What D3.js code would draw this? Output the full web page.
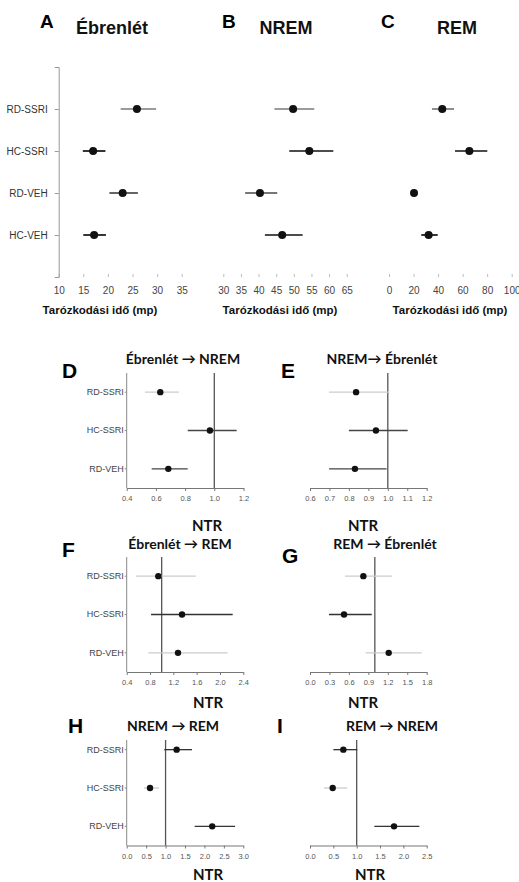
<!DOCTYPE html>
<html>
<head>
<meta charset="utf-8">
<script src="https://cdn.jsdelivr.net/npm/d3@7"></script>
<style>
  body { margin: 0; background: #fff; }
  svg { display: block; }
  .letter { font-family: "Liberation Sans", Arial, sans-serif; font-weight: bold; fill: #000; }
  .toptitle { font-family: "Liberation Sans", Arial, sans-serif; font-weight: bold; font-size: 18px; fill: #111; }
  .subtitle { font-family: Lato, "Open Sans", sans-serif; font-weight: bold; font-size: 14px; fill: #111; }
  .xlabel { font-family: "Liberation Sans", Arial, sans-serif; font-weight: bold; font-size: 11.5px; fill: #111; }
  .ntr { font-family: Lato, "Open Sans", sans-serif; font-weight: bold; font-size: 15px; fill: #111; }
</style>
</head>
<body>
<svg width="519" height="882"></svg>
<script>
document.addEventListener("DOMContentLoaded", function () {

  // csoportok
  var groups4 = ["RD-SSRI", "HC-SSRI", "RD-VEH", "HC-VEH"];
  var groups3 = ["RD-SSRI", "HC-SSRI", "RD-VEH"];

  // A - Ébrenlét, tarózkodási idő (mp)
  var awakeMean = [25.9, 17.0, 23.0, 17.2];
  var awakeLow = [22.6, 14.9, 20.3, 15.0];
  var awakeHigh = [29.8, 19.5, 26.1, 19.6];
  var awakeTicks = [10, 15, 20, 25, 30, 35];

  // B - NREM
  var nremMean = [49.8, 54.4, 40.4, 46.7];
  var nremLow = [44.5, 48.7, 36.2, 41.8];
  var nremHigh = [55.8, 61.2, 45.3, 52.5];
  var nremTicks = [30, 35, 40, 45, 50, 55, 60, 65];

  // C - REM
  var remMean = [43.4, 65.5, 20.4, 32.3];
  var remLow = [35.0, 53.8, 18.5, 26.3];
  var remHigh = [53.0, 80.1, 22.6, 39.7];
  var remTicks = [0, 20, 40, 60, 80, 100];

  // D - Ébrenlét -> NREM (NTR)
  var wnMean = [0.63, 0.97, 0.685];
  var wnLow = [0.525, 0.818, 0.571];
  var wnHigh = [0.758, 1.153, 0.818];
  var wnTicks = [0.4, 0.6, 0.8, 1.0, 1.2];

  // E - NREM -> Ébrenlét
  var nwMean = [0.837, 0.939, 0.831];
  var nwLow = [0.698, 0.80, 0.698];
  var nwHigh = [1.008, 1.102, 0.994];
  var nwTicks = [0.6, 0.7, 0.8, 0.9, 1.0, 1.1, 1.2];

  // F - Ébrenlét -> REM
  var wrMean = [0.942, 1.349, 1.28];
  var wrLow = [0.56, 0.817, 0.771];
  var wrHigh = [1.583, 2.218, 2.13];
  var wrTicks = [0.4, 0.8, 1.2, 1.6, 2.0, 2.4];

  // G - REM -> Ébrenlét
  var rwMean = [0.823, 0.525, 1.214];
  var rwLow = [0.54, 0.293, 0.859];
  var rwHigh = [1.265, 0.952, 1.723];
  var rwTicks = [0.0, 0.3, 0.6, 0.9, 1.2, 1.5, 1.8];

  // H - NREM -> REM
  var nrMean = [1.285, 0.6, 2.2];
  var nrLow = [0.967, 0.445, 1.75];
  var nrHigh = [1.68, 0.83, 2.79];
  var nrTicks = [0.0, 0.5, 1.0, 1.5, 2.0, 2.5, 3.0];

  // I - REM -> NREM
  var rnMean = [0.714, 0.486, 1.8];
  var rnLow = [0.5, 0.3, 1.378];
  var rnHigh = [1.014, 0.8, 2.343];
  var rnTicks = [0.0, 0.5, 1.0, 1.5, 2.0, 2.5];

  var svg = d3.select("svg");
  var topShade = ["#7a7a7a", "#111", "#4a4a4a", "#111"];

  function zip(groups, mean, low, high) {
    return groups.map(function (g, i) {
      return { group: g, mean: mean[i], low: low[i], high: high[i] };
    });
  }

  // felső sor: tarózkodási idő
  function topPanel(p) {
    var g = svg.append("g");
    var x = d3.scaleLinear().domain(p.domain).range([p.x0, p.x1]);
    var y = d3.scalePoint().domain(groups4).range([67, 277]).padding(1);

    var ax = g.append("g")
      .attr("transform", "translate(0,274)")
      .call(d3.axisBottom(x).tickValues(p.ticks).tickSize(3).tickSizeOuter(0).tickPadding(10));
    ax.select(".domain").remove();
    ax.selectAll(".tick line").attr("stroke", "#bbb");
    ax.selectAll(".tick text")
      .attr("fill", "#444")
      .style("font-family", "'Liberation Sans', Arial, sans-serif")
      .style("font-size", "10px");

    if (p.yAxis) {
      var ay = g.append("g")
        .attr("transform", "translate(" + p.x0 + ",0)")
        .call(d3.axisLeft(y).tickSize(4).tickSizeOuter(4).tickPadding(7));
      ay.select(".domain").attr("stroke", "#999");
      ay.selectAll(".tick line").attr("stroke", "#999");
      ay.selectAll(".tick text")
        .attr("fill", "#333")
        .style("font-family", "'Liberation Sans', Arial, sans-serif")
        .style("font-size", "10px");
    }

    var rows = zip(groups4, p.mean, p.low, p.high);
    g.selectAll("line.err")
      .data(rows)
      .enter()
      .append("line")
      .attr("class", "err")
      .attr("x1", function (d) { return x(d.low); })
      .attr("x2", function (d) { return x(d.high); })
      .attr("y1", function (d) { return y(d.group); })
      .attr("y2", function (d) { return y(d.group); })
      .attr("stroke", function (d, i) { return topShade[i]; })
      .attr("stroke-width", 1.7);
    g.selectAll("circle")
      .data(rows)
      .enter()
      .append("circle")
      .attr("cx", function (d) { return x(d.mean); })
      .attr("cy", function (d) { return y(d.group); })
      .attr("r", 4)
      .attr("fill", "#111");

    g.append("text").attr("class", "letter").style("font-size", "19px")
      .attr("x", p.letterX).attr("y", 28).text(p.letter);
    g.append("text").attr("class", "toptitle").attr("text-anchor", "middle")
      .attr("x", p.titleX).attr("y", 34).text(p.title);
    g.append("text").attr("class", "xlabel").attr("text-anchor", "middle")
      .attr("x", p.labelX).attr("y", 314).text("Tarózkodási idő (mp)");
  }

  // alsó panelek: NTR
  function ntrPanel(p) {
    var g = svg.append("g");
    var x = d3.scaleLinear().domain(p.domain).range([p.x0, p.x1]);
    var y = d3.scaleBand().domain(groups3).range([p.bandTop, p.axisY]);
    var mid = y.bandwidth() / 2;

    var ax = g.append("g")
      .attr("transform", "translate(0," + p.axisY + ")")
      .call(d3.axisBottom(x).tickValues(p.ticks).tickFormat(d3.format(".1f"))
        .tickSize(3).tickSizeOuter(0).tickPadding(5));
    ax.select(".domain").attr("stroke", "#777");
    ax.selectAll(".tick line").attr("stroke", "#777");
    ax.selectAll(".tick text")
      .attr("fill", "#555")
      .style("font-family", "'Liberation Sans', Arial, sans-serif")
      .style("font-size", "7.5px");

    if (p.yAxis) {
      var ay = g.append("g")
        .attr("transform", "translate(" + p.x0 + ",0)")
        .call(d3.axisLeft(y).tickSize(2).tickSizeOuter(0).tickPadding(1));
      ay.select(".domain").remove();
      ay.selectAll(".tick line").attr("stroke", "#888");
      ay.selectAll(".tick text")
        .attr("fill", "#444")
        .style("font-family", "'Liberation Sans', Arial, sans-serif")
        .style("font-size", "9px");
      g.append("line")
        .attr("x1", p.x0).attr("x2", p.x0)
        .attr("y1", p.lineTop).attr("y2", p.axisY)
        .attr("stroke", "#888");
    }

    // referencia vonal NTR = 1
    g.append("line")
      .attr("x1", x(1)).attr("x2", x(1))
      .attr("y1", p.lineTop).attr("y2", p.axisY)
      .attr("stroke", "#555")
      .attr("stroke-width", 1.3);

    var rows = zip(groups3, p.mean, p.low, p.high);
    g.selectAll("line.err")
      .data(rows)
      .enter()
      .append("line")
      .attr("class", "err")
      .attr("x1", function (d) { return x(d.low); })
      .attr("x2", function (d) { return x(d.high); })
      .attr("y1", function (d) { return y(d.group) + mid; })
      .attr("y2", function (d) { return y(d.group) + mid; })
      .attr("stroke", function (d, i) { return p.shade[i]; })
      .attr("stroke-width", 1.3);
    g.selectAll("circle")
      .data(rows)
      .enter()
      .append("circle")
      .attr("cx", function (d) { return x(d.mean); })
      .attr("cy", function (d) { return y(d.group) + mid; })
      .attr("r", 3.2)
      .attr("fill", "#111");

    g.append("text").attr("class", "letter").style("font-size", "21px")
      .attr("x", p.letterX).attr("y", p.letterY).text(p.letter);
    g.append("text").attr("class", "subtitle").attr("text-anchor", "middle")
      .attr("x", p.titleX).attr("y", p.titleY).text(p.title);
    g.append("text").attr("class", "ntr").attr("text-anchor", "middle")
      .attr("x", p.ntrX).attr("y", p.ntrY).text("NTR");
  }

  topPanel({ letter: "A", title: "Ébrenlét", domain: [10, 35], x0: 58.7, x1: 181.7, ticks: awakeTicks,
    mean: awakeMean, low: awakeLow, high: awakeHigh, yAxis: true, letterX: 40, titleX: 112, labelX: 100 });
  topPanel({ letter: "B", title: "NREM", domain: [30, 65], x0: 223.3, x1: 346.7, ticks: nremTicks,
    mean: nremMean, low: nremLow, high: nremHigh, yAxis: false, letterX: 222, titleX: 286, labelX: 280 });
  topPanel({ letter: "C", title: "REM", domain: [0, 100], x0: 389, x1: 511.7, ticks: remTicks,
    mean: remMean, low: remLow, high: remHigh, yAxis: false, letterX: 381, titleX: 457, labelX: 450 });

  ntrPanel({ letter: "D", title: "Ébrenlét → NREM", domain: [0.4, 1.2], x0: 126.7, x1: 243.5, ticks: wnTicks,
    mean: wnMean, low: wnLow, high: wnHigh, shade: ["#ccc", "#444", "#444"], yAxis: true,
    bandTop: 373, lineTop: 373, axisY: 488, letterX: 62, letterY: 378, titleX: 183, titleY: 364, ntrX: 207, ntrY: 531 });
  ntrPanel({ letter: "E", title: "NREM→ Ébrenlét", domain: [0.6, 1.2], x0: 310, x1: 426.7, ticks: nwTicks,
    mean: nwMean, low: nwLow, high: nwHigh, shade: ["#ccc", "#444", "#444"], yAxis: false,
    bandTop: 373, lineTop: 373, axisY: 488, letterX: 281, letterY: 378, titleX: 382, titleY: 364, ntrX: 363, ntrY: 531 });
  ntrPanel({ letter: "F", title: "Ébrenlét → REM", domain: [0.4, 2.4], x0: 126.7, x1: 243.3, ticks: wrTicks,
    mean: wrMean, low: wrLow, high: wrHigh, shade: ["#ccc", "#333", "#ccc"], yAxis: true,
    bandTop: 557, lineTop: 557, axisY: 672, letterX: 62, letterY: 557, titleX: 180, titleY: 549, ntrX: 208, ntrY: 708 });
  ntrPanel({ letter: "G", title: "REM → Ébrenlét", domain: [0, 1.8], x0: 310, x1: 426.7, ticks: rwTicks,
    mean: rwMean, low: rwLow, high: rwHigh, shade: ["#ccc", "#333", "#ccc"], yAxis: false,
    bandTop: 557, lineTop: 557, axisY: 672, letterX: 282, letterY: 563, titleX: 385, titleY: 549, ntrX: 363, ntrY: 708 });
  ntrPanel({ letter: "H", title: "NREM → REM", domain: [0, 3], x0: 126.7, x1: 243.3, ticks: nrTicks,
    mean: nrMean, low: nrLow, high: nrHigh, shade: ["#333", "#ccc", "#333"], yAxis: true,
    bandTop: 730.5, lineTop: 740, axisY: 845.5, letterX: 68, letterY: 733, titleX: 173, titleY: 731, ntrX: 208, ntrY: 880 });
  ntrPanel({ letter: "I", title: "REM → NREM", domain: [0, 2.5], x0: 310, x1: 426.7, ticks: rnTicks,
    mean: rnMean, low: rnLow, high: rnHigh, shade: ["#333", "#ccc", "#333"], yAxis: false,
    bandTop: 730.5, lineTop: 740, axisY: 845.5, letterX: 277, letterY: 733, titleX: 392, titleY: 731, ntrX: 370, ntrY: 880 });

});
</script>
</body>
</html>
